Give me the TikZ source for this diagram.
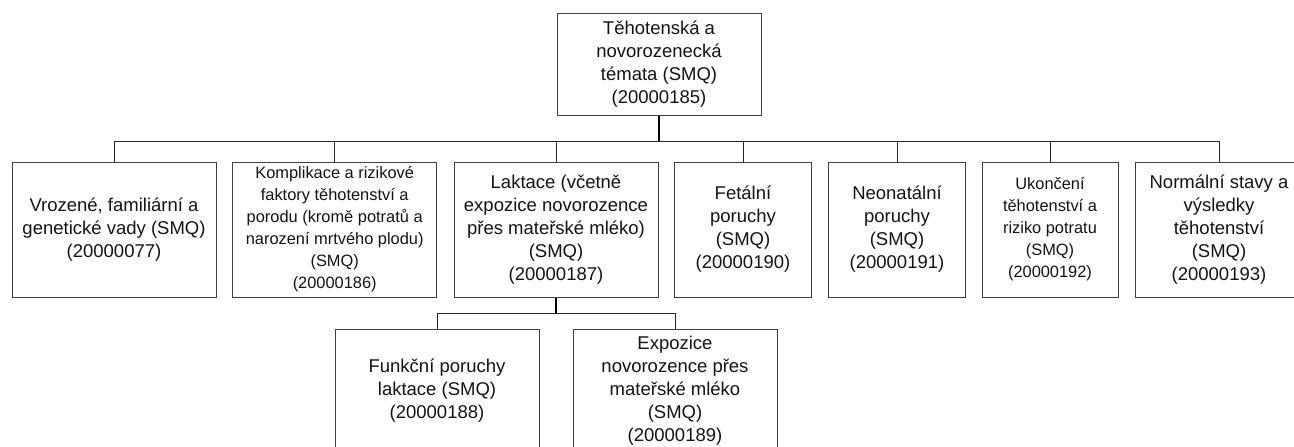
\documentclass[tikz,border=0pt]{standalone}
\usepackage{fontspec}
\setmainfont{Liberation Sans}
\begin{document}
\begin{tikzpicture}[x=1pt,y=-1pt,
  box/.style={draw=black!75, line width=1pt, inner sep=0pt, align=center, text=black!92},
  big/.style={font=\fontsize{18.5}{23}\selectfont},
  small/.style={font=\fontsize{16.4}{22}\selectfont},
  rowbox/.style={box, minimum height=135pt},
  conn/.style={draw=black!85, line width=1pt},
  stub/.style={draw=black, line width=1.6pt}]
\clip (0,0) rectangle (1294,447);
\fill[white] (0,0) rectangle (1294,447);

\node[box, big, minimum width=204pt, minimum height=102pt] (top) at (659,64)
  {Těhotenská a\\novorozenecká\\témata (SMQ)\\(20000185)};

\node[rowbox, big, minimum width=204pt] (b1) at (114,229.5)
  {Vrozené, familiární a\\genetické vady (SMQ)\\(20000077)};
\node[rowbox, small, minimum width=204pt] (b2) at (334.7,229.5)
  {Komplikace a rizikové\\faktory těhotenství a\\porodu (kromě potratů a\\narození mrtvého plodu)\\(SMQ)\\(20000186)};
\node[rowbox, big, minimum width=204pt] (b3) at (556,229.5)
  {Laktace (včetně\\expozice novorozence\\přes mateřské mléko)\\(SMQ)\\(20000187)};
\node[rowbox, big, minimum width=137pt] (b4) at (743,229.5)
  {Fetální\\poruchy\\(SMQ)\\(20000190)};
\node[rowbox, big, minimum width=137pt] (b5) at (897,229.5)
  {Neonatální\\poruchy\\(SMQ)\\(20000191)};
\node[rowbox, small, minimum width=136pt] (b6) at (1050,229.5)
  {Ukončení\\těhotenství a\\riziko potratu\\(SMQ)\\(20000192)};
\node[rowbox, big, minimum width=168pt] (b7) at (1219,229.5)
  {Normální stavy a\\výsledky\\těhotenství\\(SMQ)\\(20000193)};

\node[box, big, minimum width=204pt, minimum height=124pt] (c1) at (437,391)
  {Funkční poruchy\\laktace (SMQ)\\(20000188)};
\node[box, big, minimum width=204pt, minimum height=124pt] (c2) at (675,391)
  {Expozice\\novorozence přes\\mateřské mléko\\(SMQ)\\(20000189)};

\foreach \c in {b1,b2,b3,b4,b5,b6,b7}
  \draw[conn] (top.south) -- ++(0,25.5) -| (\c.north);
\draw[stub] (top.south) -- ++(0,25.5);

\foreach \c in {c1,c2}
  \draw[conn] (b3.south) -- ++(0,16) -| (\c.north);
\draw[stub] (b3.south) -- ++(0,16);
\end{tikzpicture}
\end{document}
